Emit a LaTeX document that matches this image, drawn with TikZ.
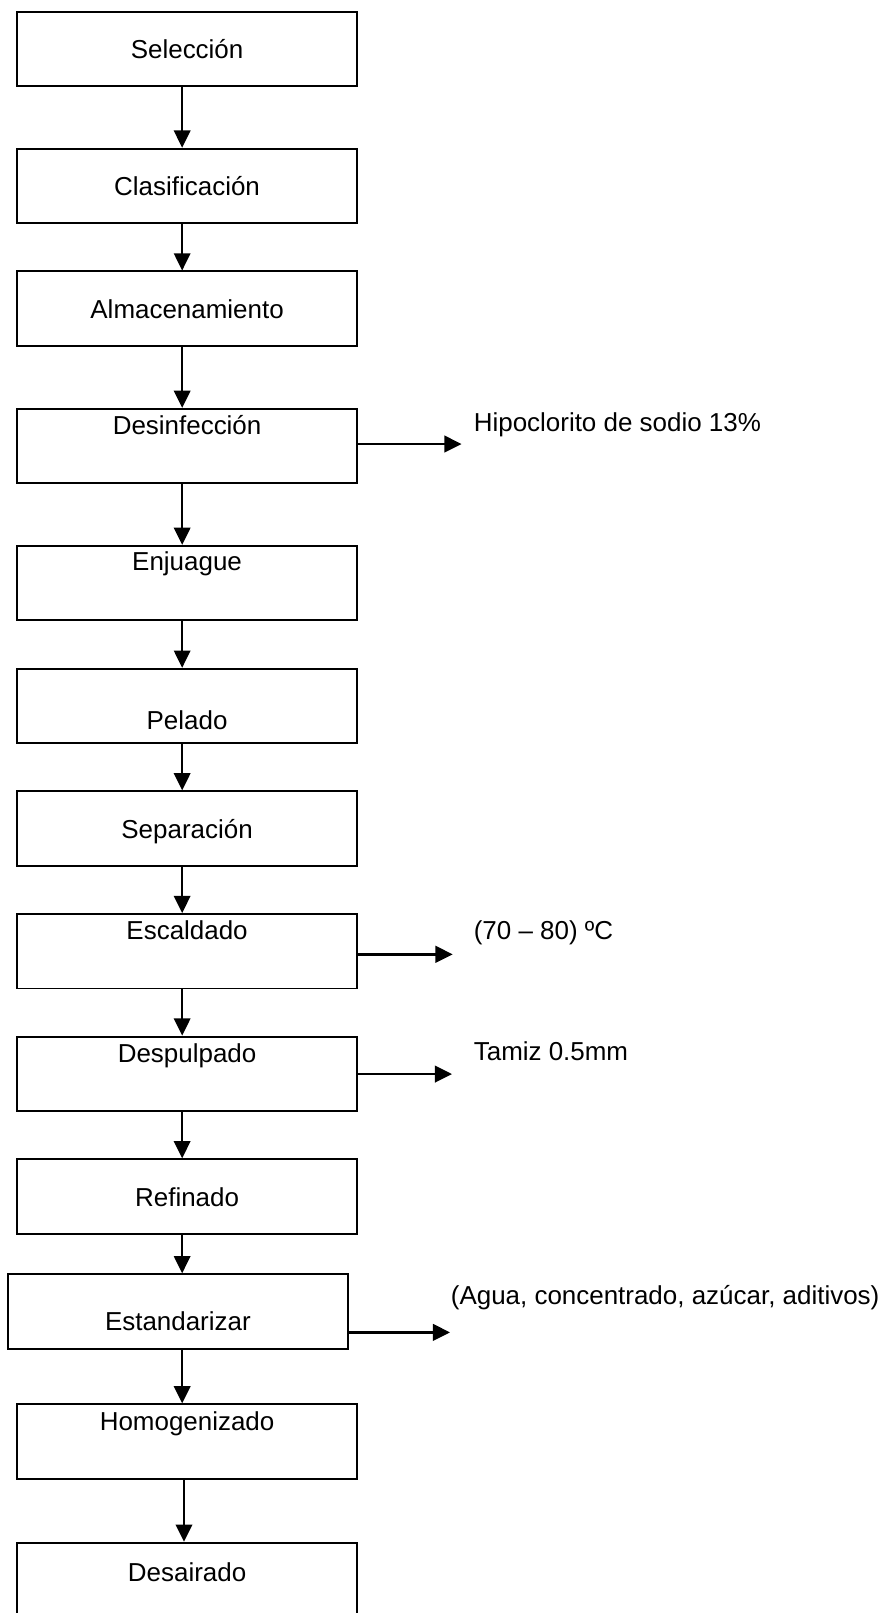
\documentclass[tikz,border=0pt]{standalone}
\usepackage{fontspec}
\setmainfont{Liberation Sans}
\usetikzlibrary{arrows.meta}

\begin{document}
\begin{tikzpicture}[>={Triangle[length=2.8mm, width=2.7mm]}, line width=0.75pt,
    caja/.style={draw, line width=0.9pt, inner sep=0pt, minimum width=5.52cm,
        text height=0.76cm, text depth=0.45cm, font=\fontsize{12}{14}\selectfont},
    arriba/.style={text height=0.42cm, text depth=0.79cm},
    nota/.style={anchor=base west, inner sep=0pt, font=\fontsize{12}{14}\selectfont},
    salida/.style={->, line width=1.1pt}]

\useasboundingbox (0,0) rectangle (14.53,-26.21);

% Etapas del proceso
    \node[caja] (s1) at (3.04,-0.795) {Selección};
    \node[caja] (s2) at (3.04,-3.021) {Clasificación};
    \node[caja] (s3) at (3.04,-5.016) {Almacenamiento};
    \node[caja, arriba] (s4) at (3.04,-7.248) {Desinfección};
    \node[caja, text height=0.40cm, text depth=0.81cm] (s5) at (3.04,-9.474) {Enjuague};
    \node[caja, text height=0.99cm, text depth=0.22cm] (s6) at (3.04,-11.471) {Pelado};
    \node[caja] (s7) at (3.04,-13.463) {Separación};
    \node[caja, arriba] (s8) at (3.04,-15.457) {Escaldado};
    \node[caja, arriba] (s9) at (3.04,-17.448) {Despulpado};
    \node[caja] (s10) at (3.04,-19.442) {Refinado};
    \node[caja, text height=0.91cm, text depth=0.30cm] (s11) at (2.89,-21.31) {Estandarizar};
    \node[caja, arriba] (s12) at (3.04,-23.424) {Homogenizado};
    \node[caja, text height=0.63cm, text depth=0.58cm] (s13) at (3.04,-25.673) {Desairado};

% Flechas verticales
    \coordinate (eje) at (2.96,0);
    \draw[->] (s1.south -| eje) -- (s2.north -| eje);
    \draw[->] (s2.south -| eje) -- (s3.north -| eje);
    \draw[->] (s3.south -| eje) -- (s4.north -| eje);
    \draw[->] (s4.south -| eje) -- (s5.north -| eje);
    \draw[->] (s5.south -| eje) -- (s6.north -| eje);
    \draw[->] (s6.south -| eje) -- (s7.north -| eje);
    \draw[->] (s7.south -| eje) -- (s8.north -| eje);
    \draw[->] (s8.south -| eje) -- (s9.north -| eje);
    \draw[->] (s9.south -| eje) -- (s10.north -| eje);
    \draw[->] (s10.south -| eje) -- (s11.north -| eje);
    \draw[->] (s11.south -| eje) -- (s12.north -| eje);
    \draw[->] ([xshift=0.03cm]s12.south -| eje) -- ([xshift=0.03cm]s13.north -| eje);

% Salidas laterales
    \coordinate (f4) at (7.50,-7.215);
    \coordinate (f8) at (7.356,-15.507);
    \coordinate (f9) at (7.345,-17.453);
    \coordinate (f11) at (7.313,-21.650);
    \draw[salida] (s4.east |- f4) -- (f4);
    \draw[salida] (s8.east |- f8) -- (f8);
    \draw[salida] (s9.east |- f9) -- (f9);
    \draw[salida] (s11.east |- f11) -- (f11);

% Anotaciones
    \node[nota] (l4) at (7.686,-7.015) {Hipoclorito de sodio 13\%};
    \node[nota] (l8) at (7.686,-15.259) {(70 – 80) ºC};
    \node[nota] (l9) at (7.686,-17.236) {Tamiz 0.5mm};
    \node[nota] (l11) at (7.313,-21.195) {(Agua, concentrado, azúcar, aditivos)};

\end{tikzpicture}
\end{document}
